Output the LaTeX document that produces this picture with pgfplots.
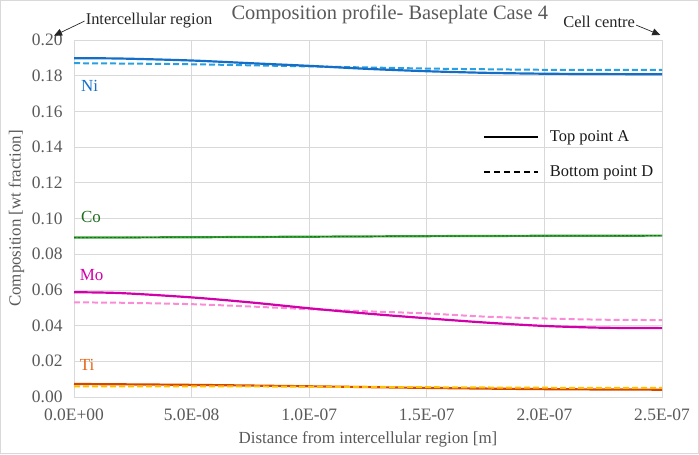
\documentclass[border=0pt]{standalone}
\usepackage{fontspec}
\setmainfont{Liberation Serif}
\usepackage{pgfplots}
\pgfplotsset{compat=1.18}
\usetikzlibrary{arrows.meta}
\definecolor{txt}{RGB}{89,89,89}
\definecolor{gridc}{RGB}{217,217,217}
\definecolor{nisol}{RGB}{20,110,200}
\definecolor{nidash}{RGB}{40,160,225}
\definecolor{cosol}{RGB}{50,160,50}
\definecolor{codash}{RGB}{30,110,30}
\definecolor{mosol}{RGB}{210,0,170}
\definecolor{modash}{RGB}{250,140,215}
\definecolor{tisol}{RGB}{215,70,0}
\definecolor{tidash}{RGB}{255,192,0}
\definecolor{tilab}{RGB}{230,100,20}
\begin{document}
\begin{tikzpicture}[x=1bp,y=1bp]
\begin{axis}[
  scale only axis,
  width=588bp, height=357bp,
  xmin=0, xmax=2.5e-7, ymin=0, ymax=0.2,
  xtick={0,5e-8,1e-7,1.5e-7,2e-7,2.5e-7},
  xticklabels={0.0E+00,5.0E-08,1.0E-07,1.5E-07,2.0E-07,2.5E-07},
  ytick={0,0.02,...,0.2},
  /pgf/number format/fixed,
  /pgf/number format/fixed zerofill,
  /pgf/number format/precision=2,
  /pgf/number format/assume math mode=true,
  scaled x ticks=false, scaled y ticks=false,
  grid=major, major grid style={gridc, line width=0.8pt},
  axis line style={gridc, line width=0.8pt},
  major tick length=0pt,
  tick label style={font=\fontsize{17.5}{19}\selectfont, text=txt},
  xticklabel style={yshift=-8bp},
  yticklabel style={xshift=-8bp},
  xlabel={Distance from intercellular region [m]},
  ylabel={Composition [wt fraction]},
  label style={font=\fontsize{17}{19}\selectfont, text=txt},
  xlabel style={yshift=-4bp},
  ylabel style={yshift=1bp},
  title={Composition profile- Baseplate Case 4},
  title style={font=\fontsize{20.5}{22}\selectfont, text=txt, at={(0.537,1.056)}, anchor=center},
  legend style={draw=none, fill=none, at={(0.69,0.758)}, anchor=north west,
    font=\fontsize{16.5}{18}\selectfont, row sep=19bp, column sep=9bp, text=black!90},
  legend cell align=left,
  legend image code/.code={\draw[#1] (0bp,0bp) -- (54bp,0bp);},
  clip=false,
]
\addlegendimage{black, line width=2pt}
\addlegendentry{Top point A}
\addlegendimage{black, line width=2pt, dash pattern=on 6bp off 4bp}
\addlegendentry{Bottom point D}
% Ni
\addplot[nidash, line width=2pt, dash pattern=on 6bp off 3bp, smooth] coordinates {
(0,0.1870) (2e-8,0.1868) (5e-8,0.1864) (7.5e-8,0.1858) (1e-7,0.1852) (1.25e-7,0.1846) (1.5e-7,0.1840) (1.75e-7,0.1836) (2e-7,0.1833) (2.25e-7,0.1832) (2.5e-7,0.1832)};
\addplot[nisol, line width=2.2pt, smooth] coordinates {
(0,0.1898) (2e-8,0.1896) (5e-8,0.1885) (7.5e-8,0.1870) (1e-7,0.1855) (1.25e-7,0.1838) (1.5e-7,0.1825) (1.75e-7,0.1816) (2e-7,0.1811) (2.25e-7,0.1809) (2.5e-7,0.1808)};
% Co
\addplot[cosol, line width=2.2pt, smooth] coordinates {
(0,0.0893) (5e-8,0.0895) (1e-7,0.0898) (1.5e-7,0.0901) (2e-7,0.0903) (2.5e-7,0.0904)};
\addplot[codash, line width=0.9pt, dash pattern=on 2bp off 2bp, smooth] coordinates {
(0,0.0893) (5e-8,0.0895) (1e-7,0.0898) (1.5e-7,0.0901) (2e-7,0.0903) (2.5e-7,0.0904)};
% Mo
\addplot[modash, line width=2pt, dash pattern=on 6bp off 3bp, smooth] coordinates {
(0,0.0530) (2e-8,0.0528) (5e-8,0.0520) (7.5e-8,0.0507) (1e-7,0.0492) (1.25e-7,0.0480) (1.5e-7,0.0468) (1.75e-7,0.0450) (2e-7,0.0440) (2.25e-7,0.0433) (2.5e-7,0.0431)};
\addplot[mosol, line width=2.2pt, smooth] coordinates {
(0,0.0587) (2e-8,0.0582) (5e-8,0.0558) (7.5e-8,0.0530) (1e-7,0.0497) (1.25e-7,0.0467) (1.5e-7,0.0441) (1.75e-7,0.0417) (2e-7,0.0398) (2.25e-7,0.0388) (2.5e-7,0.0386)};
% Ti
\addplot[tisol, line width=2.2pt, smooth] coordinates {
(0,0.0073) (5e-8,0.0068) (1e-7,0.0060) (1.5e-7,0.0051) (2e-7,0.0044) (2.5e-7,0.0041)};
\addplot[tidash, line width=2pt, dash pattern=on 6bp off 3bp, smooth] coordinates {
(0,0.0060) (5e-8,0.0060) (1e-7,0.0058) (1.5e-7,0.0055) (2e-7,0.0052) (2.5e-7,0.0051)};
% labels
\node[anchor=west, text=nisol, font=\fontsize{17}{19}\selectfont] at (axis cs:1.5e-9,0.1745) {Ni};
\node[anchor=west, text=codash, font=\fontsize{17}{19}\selectfont] at (axis cs:1.5e-9,0.1010) {Co};
\node[anchor=west, text=mosol, font=\fontsize{17}{19}\selectfont] at (axis cs:1.0e-9,0.0685) {Mo};
\node[anchor=west, text=tilab, font=\fontsize{17}{19}\selectfont] at (axis cs:1.0e-9,0.0180) {Ti};
% annotations
\node[anchor=west, text=black!85, font=\fontsize{16.5}{18}\selectfont, inner sep=1bp] (ic) at (rel axis cs:0.018,1.053) {Intercellular region};
\draw[-{Triangle[length=8bp,width=7bp]}, black!85, line width=0.7pt] (ic.west) -- (rel axis cs:-0.034,1.012);
\node[anchor=east, text=black!85, font=\fontsize{16.5}{18}\selectfont, inner sep=1bp] (cc) at (rel axis cs:0.956,1.050) {Cell centre};
\draw[-{Triangle[length=8bp,width=7bp]}, black!85, line width=0.7pt] ([yshift=-3bp]cc.east) -- (rel axis cs:0.997,1.014);
\coordinate (bl) at (rel axis cs:-0.1250,-0.1585);
\coordinate (tr) at (rel axis cs:1.0620,1.1106);
\end{axis}
\pgfresetboundingbox
\draw[gridc, line width=1pt] (bl) rectangle (tr);
\end{tikzpicture}
\end{document}
